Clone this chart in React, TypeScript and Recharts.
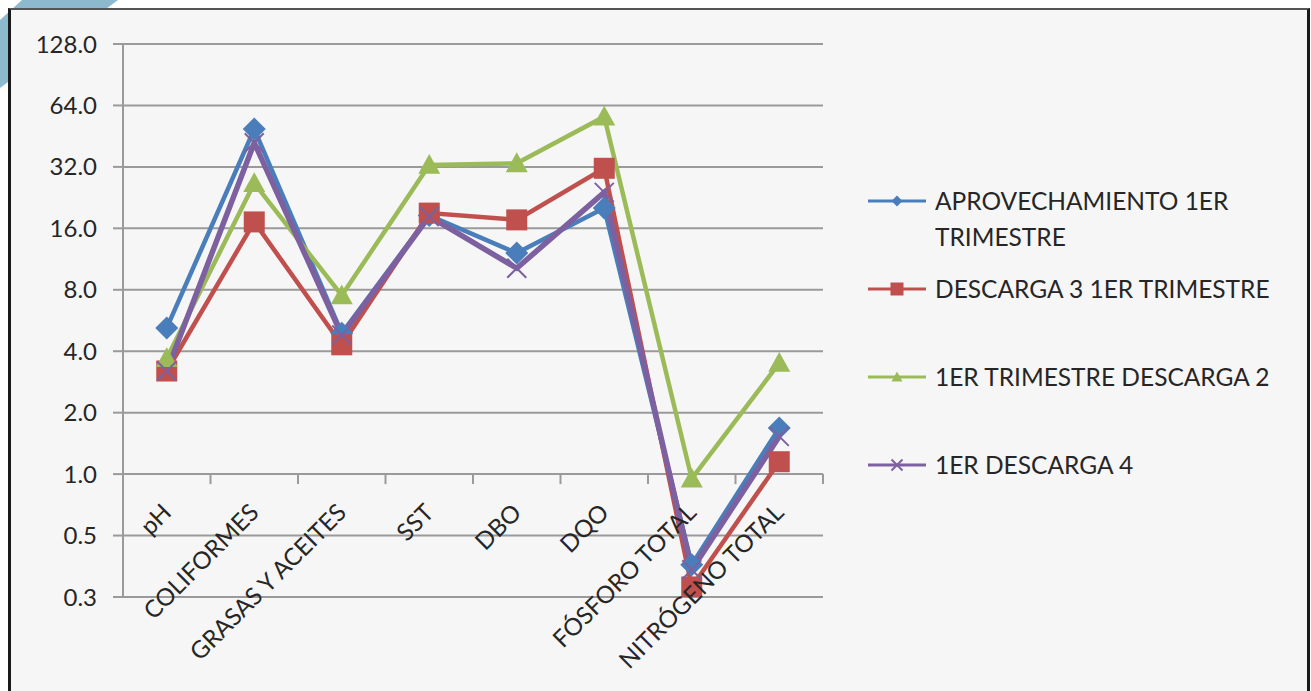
import React from 'react'
import { LineChart, Line, XAxis, YAxis, CartesianGrid } from 'recharts'

const categories = [
  'pH',
  'COLIFORMES',
  'GRASAS Y ACEITES',
  'SST',
  'DBO',
  'DQO',
  'FÓSFORO TOTAL',
  'NITRÓGENO TOTAL',
]
const aprovechamiento1 = [5.2, 49, 4.9, 18.5, 12.1, 20.1, 0.36, 1.68]
const descarga3 = [3.2, 17.2, 4.3, 19, 17.6, 31.5, 0.28, 1.15]
const descarga2 = [3.7, 26.6, 7.5, 32.7, 33.3, 56.4, 0.95, 3.5]
const descarga4 = [3.2, 42, 4.8, 18.3, 10.2, 24, 0.34, 1.53]
const yTicks = [0.25, 0.5, 1, 2, 4, 8, 16, 32, 64, 128]

type Shape = 'diamond' | 'square' | 'triangle' | 'x'

const series: { key: string; name: string; values: number[]; color: string; shape: Shape; width: number }[] = [
  { key: 'a', name: 'APROVECHAMIENTO 1ER TRIMESTRE', values: aprovechamiento1, color: '#4a7ebb', shape: 'diamond', width: 4.5 },
  { key: 'b', name: 'DESCARGA 3 1ER TRIMESTRE', values: descarga3, color: '#c0504d', shape: 'square', width: 4.5 },
  { key: 'c', name: '1ER TRIMESTRE DESCARGA 2', values: descarga2, color: '#9bbb59', shape: 'triangle', width: 4.5 },
  { key: 'd', name: '1ER DESCARGA 4', values: descarga4, color: '#7d60a0', shape: 'x', width: 5.5 },
]

const data = categories.map((name, i) => {
  const row: Record<string, string | number> = { name }
  series.forEach((s) => (row[s.key] = s.values[i]))
  return row
})

// layout
const W = 1311
const H = 691
const TOP = 44
const RIGHT = 488
const Y_W = 123
const X_H = 94
const PLOT_W = W - Y_W - RIGHT
const PLOT_H = H - TOP - X_H
const BAND = PLOT_W / categories.length
const Y_MIN = yTicks[0]
const Y_MAX = yTicks[yTicks.length - 1]
// horizontal axis crosses at 1.0
const AXIS_SHIFT = (PLOT_H * Math.log2(1 / Y_MIN)) / Math.log2(Y_MAX / Y_MIN)
const FONT = "Lato, 'Open Sans', sans-serif"
const TEXT = '#262626'
const GRID = '#9a9a9a'

function Marker({ cx, cy, shape, color, size }: { cx?: number; cy?: number; shape: Shape; color: string; size: number }) {
  if (cx == null || cy == null) return null
  const r = size / 2
  if (shape === 'diamond')
    return <polygon points={`${cx},${cy - r} ${cx + r},${cy} ${cx},${cy + r} ${cx - r},${cy}`} fill={color} />
  if (shape === 'square') return <rect x={cx - r} y={cy - r} width={size} height={size} fill={color} />
  if (shape === 'triangle')
    return <polygon points={`${cx},${cy - r} ${cx + r},${cy + r * 0.8} ${cx - r},${cy + r * 0.8}`} fill={color} />
  return (
    <g stroke={color} strokeWidth={2}>
      <line x1={cx - r} y1={cy - r} x2={cx + r} y2={cy + r} />
      <line x1={cx - r} y1={cy + r} x2={cx + r} y2={cy - r} />
    </g>
  )
}

const markerSize: Record<Shape, number> = { diamond: 23, square: 21, triangle: 22, x: 19 }

function XTick(props: any) {
  const { x, y, payload, index } = props
  const axisY = y - AXIS_SHIFT
  const half = BAND / 2
  const tx = x + 6
  const ty = axisY + 40
  return (
    <g>
      <line x1={x - half} x2={x - half} y1={axisY} y2={axisY + 10} stroke={GRID} strokeWidth={2} />
      {index === categories.length - 1 && (
        <line x1={x + half} x2={x + half} y1={axisY} y2={axisY + 10} stroke={GRID} strokeWidth={2} />
      )}
      <text x={tx} y={ty} textAnchor="end" transform={`rotate(-45 ${tx} ${ty})`} fill={TEXT} fontSize={24}>
        {payload.value}
      </text>
    </g>
  )
}

export default function App() {
  return (
    <div style={{ position: 'fixed', left: 0, top: 0, width: W, height: H, overflow: 'hidden', background: '#fff', fontFamily: FONT }}>
      <svg style={{ position: 'absolute', left: 0, top: 0 }} width={W} height={H}>
        <polygon points="22,0 118,0 0,88 0,20" fill="#8db9cf" />
      </svg>
      <div
        style={{
          position: 'absolute',
          left: 8,
          top: 8,
          width: 1302,
          height: 700,
          boxSizing: 'border-box',
          borderLeft: '3px solid #1a1a1a',
          borderRight: '3px solid #1a1a1a',
          borderTop: '2px solid #555',
          background: '#f6f6f6',
        }}
      />
      <div style={{ position: 'absolute', left: 0, top: 0 }}>
        <LineChart width={W} height={H} data={data} margin={{ top: TOP, right: RIGHT, bottom: 0, left: 0 }}>
          <CartesianGrid vertical={false} stroke={GRID} strokeWidth={2} />
          <XAxis
            dataKey="name"
            height={X_H}
            padding={{ left: BAND / 2, right: BAND / 2 }}
            axisLine={false}
            tickLine={false}
            tickSize={0}
            tickMargin={0}
            interval={0}
            tick={(p: any) => <XTick key={p.index} {...p} />}
          />
          <YAxis
            type="number"
            scale="log"
            domain={[Y_MIN, Y_MAX]}
            ticks={yTicks}
            interval={0}
            allowDataOverflow
            width={Y_W}
            tickSize={10}
            tickMargin={16}
            tickFormatter={(v: number) => v.toFixed(1)}
            tick={{ fill: TEXT, fontSize: 24 }}
            axisLine={{ stroke: GRID, strokeWidth: 2 }}
            tickLine={{ stroke: GRID, strokeWidth: 2 }}
          />
          {series.map((s) => (
            <Line
              key={s.key}
              type="linear"
              dataKey={s.key}
              name={s.name}
              stroke={s.color}
              strokeWidth={s.width}
              activeDot={false}
              isAnimationActive={false}
              dot={(p: any) => (
                <Marker key={`${s.key}-${p.index}`} cx={p.cx} cy={p.cy} shape={s.shape} color={s.color} size={markerSize[s.shape]} />
              )}
            />
          ))}
        </LineChart>
      </div>
      {series.map((s, i) => (
        <div
          key={s.key}
          style={{ position: 'absolute', left: 868, top: 201 + i * 88 - 18, display: 'flex', alignItems: 'flex-start' }}
        >
          <svg width={60} height={36}>
            <line x1={0} x2={58} y1={18} y2={18} stroke={s.color} strokeWidth={3} />
            <Marker cx={29} cy={18} shape={s.shape} color={s.color} size={s.shape === 'square' ? 13 : 11} />
          </svg>
          <div style={{ width: 370, marginLeft: 7, lineHeight: '36px', fontSize: 24.5, color: TEXT }}>{s.name}</div>
        </div>
      ))}
    </div>
  )
}
